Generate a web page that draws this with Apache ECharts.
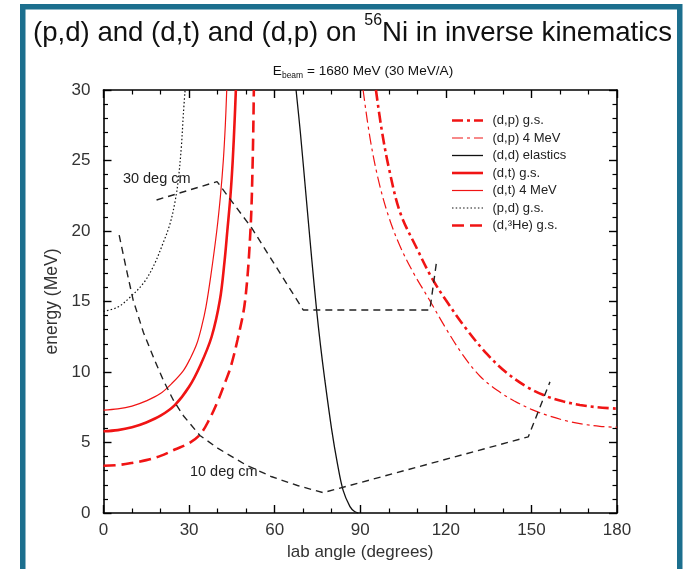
<!DOCTYPE html>
<html><head><meta charset="utf-8">
<script src="https://cdn.jsdelivr.net/npm/echarts@6/dist/echarts.min.js"></script>
<style>html,body{margin:0;padding:0;background:#fff}#c{width:685px;height:569px}</style>
</head><body><div id="c"></div>
<script>
// ---- data (lab angle in degrees, energy in MeV) ----
const dpGS   = [[95.5,30],[97.5,27.2],[100,24.5],[104,21.3],[110,18.7],[115,16.7],[120,15.1],[127,13.1],[134.3,11.3],[141,10.0],[148.3,8.96],[155,8.3],[161,7.92],[167,7.66],[173,7.5],[180,7.4]];
const dp4    = [[91,30],[93.5,26.5],[96.5,23.5],[100,21],[104,18.9],[109,16.9],[114,15.2],[120,13.1],[126,11.2],[132,9.7],[138,8.7],[144,7.95],[150,7.35],[156,6.9],[162,6.55],[168,6.3],[174,6.15],[180,6.08]];
const ddEl   = [[67.5,30],[69,27],[71,22.5],[73,18],[74.7,14.4],[76,12],[77.6,9.4],[80,5.9],[82,3.5],[84,1.6],[86.4,0.45],[88,0.1],[89.3,0]];
const dtGS   = [[0,5.8],[5,5.88],[10,6.08],[15,6.42],[20,6.9],[25,7.65],[30,8.95],[34,10.5],[37.9,12.5],[40.8,15.1],[42.4,17.8],[43.4,20],[44.5,22.5],[45.3,25],[46,28],[46.4,30]];
const dt4    = [[0,7.3],[5,7.38],[10,7.58],[15,7.95],[19.8,8.45],[24,9.2],[28,10.1],[30.5,11],[32.7,12],[34.5,13.3],[35.9,14.6],[37.6,16.8],[39.7,20],[41,22.5],[42,25],[42.7,27.5],[43.2,30]];
const pdGS   = [[0,14.3],[5,14.6],[9.3,15.3],[14,16.3],[17.5,17.5],[21,19.2],[23.3,20.5],[25,22],[26.2,23.6],[27.3,26],[28,28.3],[28.6,30]];
const d3HeGS = [[0,3.35],[5,3.4],[10,3.55],[15,3.75],[20,4.05],[25,4.5],[30,4.95],[34,5.6],[37,6.6],[40,7.9],[42.5,9.2],[44.5,10.3],[47,12.3],[49.6,15],[51.5,20],[52.3,25],[52.7,30]];
const cm30   = [[18.6,22.2],[39.8,23.5],[52,20.2],[70,14.4],[114.4,14.4],[116.8,17.9]];
const cm10   = [[5.5,19.7],[8,17.3],[10.4,15.1],[14,12.8],[18,10.8],[21,9.4],[24.5,8.0],[28,6.9],[33.8,5.5],[40,4.6],[50,3.4],[59,2.57],[68,1.95],[77,1.44],[148.9,5.4],[156.5,9.3]];
const seriesNames = ['(d,p) g.s.','(d,p) 4 MeV','(d,d) elastics','(d,t) g.s.','(d,t) 4 MeV','(p,d) g.s.','(d,\u00b3He) g.s.'];
const cmLabels = [{text:'30 deg cm', at:[6.8,23.7]},{text:'10 deg cm', at:[30.3,2.9]}];
const xMin=0, xMax=180, xStep=30, yMin=0, yMax=30, yStep=5;

const FONT = '"Liberation Sans", Arial, Helvetica, sans-serif';
const RED = '#f01414', BLK = '#111';
const chart = echarts.init(document.getElementById('c'), null, {renderer:'canvas'});

function axisCommon(pos, showLabel, isX){
  return {
    type:'value', position:pos,
    min: isX?xMin:yMin, max: isX?xMax:yMax, interval: isX?xStep:yStep,
    axisLine:{show:true, onZero:false, lineStyle:{color:'#000', width:1.6}},
    axisTick:{show:true, inside:true, length:8, lineStyle:{color:'#000', width:1.4}},
    minorTick:{show:true, splitNumber: isX?3:5, length:4.5, lineStyle:{color:'#000', width:1.2}},
    splitLine:{show:false}, minorSplitLine:{show:false},
    axisLabel:{show:showLabel, fontSize:17, color:'#333', fontFamily:FONT, margin: isX?9:13},
  };
}
const xAxes = [
  Object.assign(axisCommon('bottom', true, true), {name:'lab angle (degrees)', nameLocation:'middle', nameGap:30, nameTextStyle:{fontSize:17, color:'#333', fontFamily:FONT}}),
  axisCommon('top', false, true)
];
const yAxes = [
  Object.assign(axisCommon('left', true, false), {name:'energy (MeV)', nameLocation:'middle', nameGap:40, nameTextStyle:{fontSize:17.5, color:'#333', fontFamily:FONT}}),
  axisCommon('right', false, false)
];

const styles = [
  {c:RED, w:2.6, t:[11,4,3,4]},
  {c:RED, w:1.2, t:[11,4,3,4]},
  {c:BLK, w:1.3, t:'solid'},
  {c:RED, w:2.6, t:'solid'},
  {c:RED, w:1.2, t:'solid'},
  {c:BLK, w:1.2, t:[1.5,2.2]},
  {c:RED, w:2.6, t:[12,6]},
];
function ln(name, data, st){
  return {name, type:'line', data, symbol:'none', smooth:0.35, clip:true, silent:true,
    lineStyle:{color:st.c, width:st.w, type:st.t}, itemStyle:{color:st.c}, emphasis:{disabled:true}, z:3};
}
const mainData = [dpGS, dp4, ddEl, dtGS, dt4, pdGS, d3HeGS];
const series = mainData.map((d,i)=>ln(seriesNames[i], d, styles[i]));
series.push(Object.assign(ln('cm30', cm30, {c:'#222', w:1.4, t:[7,5]}), {smooth:false}));
series.push(Object.assign(ln('cm10', cm10, {c:'#222', w:1.4, t:[7,5]}), {smooth:false}));

chart.setOption({
  animation:false,
  backgroundColor:'#fff',
  grid:{left:103.5, right:68, top:90, bottom:56, containLabel:false},
  xAxis:xAxes, yAxis:yAxes,
  series
});

// ---- texts, legend & frame ----
const cv = document.createElement('canvas').getContext('2d');
function tw(t, s){ cv.font = s+'px '+FONT; return cv.measureText(t).width; }
const g = [];
const FR='#1c6f8e';
g.push({type:'rect', shape:{x:20,y:4,width:5.5,height:565}, style:{fill:FR}, silent:true});
g.push({type:'rect', shape:{x:20,y:4,width:662,height:5.5}, style:{fill:FR}, silent:true});
g.push({type:'rect', shape:{x:677,y:4,width:5.5,height:565}, style:{fill:FR}, silent:true});
// title
const T1='(p,d) and (d,t) and (d,p) on ', TS='56', T2='Ni in inverse kinematics';
const ts=27.6, ss=16;
let x0=33;
g.push({type:'text', x:x0, y:33, style:{text:T1, font:ts+'px '+FONT, fill:'#111', verticalAlign:'middle'}});
x0+=tw(T1,ts);
g.push({type:'text', x:x0, y:21, style:{text:TS, font:ss+'px '+FONT, fill:'#111', verticalAlign:'middle'}});
x0+=tw(TS,ss);
g.push({type:'text', x:x0, y:33, style:{text:T2, font:ts+'px '+FONT, fill:'#111', verticalAlign:'middle'}});
// subtitle
const S1='E', SB='beam', S2=' = 1680 MeV (30 MeV/A)';
const fs=13.6, fb=8.5;
let sw = tw(S1,fs)+tw(SB,fb)+tw(S2,fs);
let sx = 363 - sw/2;
g.push({type:'text', x:sx, y:71, style:{text:S1, font:fs+'px '+FONT, fill:'#111', verticalAlign:'middle'}});
sx+=tw(S1,fs);
g.push({type:'text', x:sx, y:75.5, style:{text:SB, font:fb+'px '+FONT, fill:'#111', verticalAlign:'middle'}});
sx+=tw(SB,fb);
g.push({type:'text', x:sx, y:71, style:{text:S2, font:fs+'px '+FONT, fill:'#111', verticalAlign:'middle'}});
// cm labels from data coords
cmLabels.forEach(l=>{
  const p = chart.convertToPixel({gridIndex:0}, l.at);
  g.push({type:'text', x:p[0], y:p[1], style:{text:l.text, font:'14.5px '+FONT, fill:'#222', verticalAlign:'middle'}, z:10});
});
// legend (drawn by hand so line samples keep dash styles)
seriesNames.forEach((n,i)=>{
  const y = 120.5 + i*17.5;
  const st = styles[i];
  g.push({type:'line', shape:{x1:452,y1:y,x2:483,y2:y}, style:{stroke:st.c, lineWidth:st.w, lineDash: Array.isArray(st.t)?st.t:null}, silent:true, z:10});
  g.push({type:'text', x:492.5, y:y, style:{text:n, font:'13px '+FONT, fill:'#222', verticalAlign:'middle'}, silent:true, z:10});
});
chart.setOption({graphic:g});
</script></body></html>
